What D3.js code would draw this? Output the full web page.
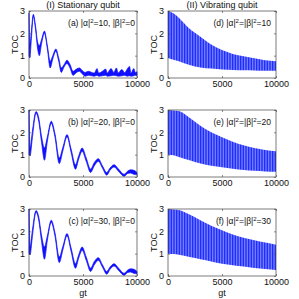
<!DOCTYPE html>
<html>
<head>
<meta charset="utf-8">
<script src="https://cdn.jsdelivr.net/npm/d3@7"></script>
<style>
	body { margin: 0; background: #fff; }
	text { font-family: "Liberation Sans", Arial, sans-serif; fill: #111; }
</style>
</head>
<body>
<div id="chart"></div>
<script>
// times and band (lo / hi)
var tA = [0, 80, 200, 400, 600, 800, 960, 1150, 1430, 1700, 1960, 2200, 2490, 2750, 2990, 3250, 3520, 3800, 4080, 4400, 4670, 4900, 5200, 5500, 5800, 6050, 6300, 6450, 6800, 7100, 7250, 7600, 7850, 8100, 8250, 8600, 8850, 9100, 9300, 9450, 9700, 9850, 10000];
var loA = [1.0, 0.9, 1.6, 2.75, 2.2, 1.3, 1.0, 1.5, 2.0, 1.3, 0.45, 0.85, 1.2, 0.75, 0.25, 0.5, 0.65, 0.45, 0.12, 0.25, 0.3, 0.2, 0.08, 0.12, 0.1, 0.08, 0.12, 0.08, 0.1, 0.12, 0.08, 0.1, 0.12, 0.1, 0.08, 0.1, 0.12, 0.08, 0.1, 0.08, 0.1, 0.12, 0.1];
var hiA = [2.9, 1.5, 2.0, 2.85, 2.35, 1.6, 1.45, 1.7, 2.1, 1.45, 0.75, 1.0, 1.3, 0.9, 0.45, 0.6, 0.8, 0.6, 0.3, 0.4, 0.45, 0.35, 0.25, 0.3, 0.25, 0.22, 0.42, 0.22, 0.3, 0.4, 0.22, 0.42, 0.25, 0.45, 0.22, 0.38, 0.24, 0.4, 0.52, 0.22, 0.42, 0.25, 0.28];

var tB = [0, 100, 300, 650, 900, 1150, 1430, 1700, 2060, 2400, 2800, 3150, 3520, 3900, 4300, 4600, 4920, 5300, 5700, 6050, 6420, 6800, 7200, 7500, 7880, 8300, 8810, 9100, 9400, 9700, 10000];
var loB = [1.0, 0.95, 1.7, 2.85, 2.5, 1.6, 0.75, 1.6, 2.4, 1.8, 0.6, 1.2, 1.8, 1.1, 0.35, 0.8, 1.15, 0.7, 0.2, 0.5, 0.7, 0.4, 0.08, 0.3, 0.45, 0.25, 0.03, 0.15, 0.18, 0.12, 0.1];
var hiB = [3.0, 1.3, 2.0, 2.93, 2.65, 1.85, 1.3, 1.8, 2.5, 1.95, 0.85, 1.35, 1.9, 1.25, 0.55, 0.95, 1.3, 0.85, 0.35, 0.65, 0.82, 0.5, 0.2, 0.4, 0.55, 0.35, 0.12, 0.25, 0.32, 0.3, 0.2];

var loC = [1.0, 0.95, 1.7, 2.85, 2.5, 1.6, 0.75, 1.6, 2.4, 1.8, 0.6, 1.2, 1.8, 1.1, 0.35, 0.8, 1.15, 0.7, 0.2, 0.5, 0.7, 0.4, 0.08, 0.3, 0.45, 0.25, 0.03, 0.15, 0.18, 0.12, 0.1];
var hiC = [3.0, 1.3, 2.0, 2.93, 2.65, 1.85, 1.3, 1.8, 2.5, 1.95, 0.85, 1.35, 1.9, 1.25, 0.55, 0.95, 1.3, 0.85, 0.35, 0.65, 0.82, 0.5, 0.2, 0.4, 0.55, 0.35, 0.12, 0.25, 0.32, 0.3, 0.2];

// envelopes of the vibrating qubit panels
var tV = [0, 500, 1000, 2000, 3000, 4000, 5000, 6000, 7000, 8000, 9000, 10000];
var loD = [0.9, 0.82, 0.75, 0.58, 0.47, 0.42, 0.38, 0.36, 0.35, 0.34, 0.33, 0.33];
var hiD = [3.0, 2.9, 2.7, 2.2, 1.85, 1.5, 1.25, 1.08, 0.97, 0.88, 0.8, 0.75];
var loE = [1.0, 0.97, 0.9, 0.75, 0.6, 0.5, 0.44, 0.37, 0.31, 0.28, 0.25, 0.23];
var hiE = [3.0, 2.98, 2.95, 2.65, 2.3, 2.0, 1.78, 1.58, 1.42, 1.3, 1.21, 1.15];
var loF = [1.0, 0.98, 0.95, 0.85, 0.75, 0.65, 0.55, 0.48, 0.42, 0.36, 0.31, 0.27];
var hiF = [3.0, 2.98, 2.95, 2.75, 2.5, 2.25, 2.05, 1.86, 1.71, 1.6, 1.5, 1.4];

var xTicks = [0, 5000, 10000];
var yTicks = [0, 1, 2, 3];
var colTitles = ["(I) Stationary qubit", "(II) Vibrating qubit"];
var tags = ["(a)", "(b)", "(c)", "(d)", "(e)", "(f)"];
var alphaVals = [10, 20, 30, 10, 20, 30];

!function() {
	var W = 299, H = 299,
		lefts = [29, 168],
		tops = [11, 110, 209],
		w = 108, h = 67,
		blue = "#1010ff";

	var svg = d3.select("#chart").append("svg")
		.attr("width", W)
		.attr("height", H);

	// stripe pattern for the fast oscillation of the vibrating qubit
	var pat = svg.append("defs").append("pattern")
		.attr("id", "stripes")
		.attr("patternUnits", "userSpaceOnUse")
		.attr("width", 1.6)
		.attr("height", 10);
	pat.append("rect").attr("width", 1.6).attr("height", 10).attr("fill", "#9298ff");
	pat.append("rect").attr("width", 0.9).attr("height", 10).attr("fill", "#1020ff");

	var x = d3.scaleLinear().domain([0, 10000]).range([0, w]);
	var y = d3.scaleLinear().domain([0, 3]).range([h, 0]);

	var panels = [
		{t: tA, lo: loA, hi: hiA, col: 0, row: 0},
		{t: tB, lo: loB, hi: hiB, col: 0, row: 1},
		{t: tB, lo: loC, hi: hiC, col: 0, row: 2},
		{t: tV, lo: loD, hi: hiD, col: 1, row: 0},
		{t: tV, lo: loE, hi: hiE, col: 1, row: 1},
		{t: tV, lo: loF, hi: hiF, col: 1, row: 2}
	];

	panels.forEach(function(p, i){
		var g = svg.append("g")
			.attr("transform", "translate(" + lefts[p.col] + "," + tops[p.row] + ")");

		var pts = p.t.map(function(t, k){ return {t: t, lo: p.lo[k], hi: p.hi[k]}; });

		var area = d3.area()
			.x(function(d){ return x(d.t); })
			.y0(function(d){ return y(d.lo); })
			.y1(function(d){ return y(d.hi); })
			.curve(d3.curveMonotoneX);

		if (p.col == 0) {
			g.append("path").datum(pts)
				.attr("d", area)
				.attr("fill", blue)
				.attr("stroke", blue)
				.attr("stroke-width", 0.7);
		} else {
			g.append("path").datum(pts)
				.attr("d", area)
				.attr("fill", "url(#stripes)");
		}

		//axes, ticks inward
		g.append("g").attr("transform", "translate(0," + h + ")")
			.call(d3.axisBottom(x).tickValues(xTicks).tickSize(-2).tickPadding(3).tickFormat(d3.format("d")));
		g.append("g")
			.call(d3.axisLeft(y).tickValues(yTicks).tickSize(-2).tickPadding(4).tickFormat(d3.format("d")));
		g.append("g").call(d3.axisTop(x).tickValues(xTicks).tickSize(-2).tickFormat(""));
		g.append("g").attr("transform", "translate(" + w + ",0)")
			.call(d3.axisRight(y).tickValues(yTicks).tickSize(-2).tickFormat(""));

		g.selectAll(".domain").remove();
		g.selectAll(".tick line").attr("stroke", "#444").attr("stroke-width", 0.6);
		g.selectAll(".tick text").attr("font-size", 9).attr("fill", "#111")
			.attr("font-family", "Liberation Sans, Arial, sans-serif");

		g.append("rect")
			.attr("width", w).attr("height", h)
			.attr("fill", "none").attr("stroke", "#444").attr("stroke-width", 0.7);

		// TOC label
		g.append("text")
			.attr("transform", "translate(-11," + (h / 2) + ") rotate(-90)")
			.attr("text-anchor", "middle")
			.attr("font-size", 9)
			.text("TOC");

		//annotation with superscripts
		var lab = g.append("text")
			.attr("x", w - 2).attr("y", 15)
			.attr("text-anchor", "end")
			.attr("font-size", 8.5);
		if (p.col == 0) {
			lab.append("tspan").text(tags[i] + " |\u03b1|");
			lab.append("tspan").attr("dy", -3).attr("font-size", 6).text("2");
			lab.append("tspan").attr("dy", 3).text("=" + alphaVals[i] + ", |\u03b2|");
			lab.append("tspan").attr("dy", -3).attr("font-size", 6).text("2");
			lab.append("tspan").attr("dy", 3).text("=0");
		} else {
			lab.attr("x", w - 5);
			lab.append("tspan").text(tags[i] + " |\u03b1|");
			lab.append("tspan").attr("dy", -3).attr("font-size", 6).text("2");
			lab.append("tspan").attr("dy", 3).text("=|\u03b2|");
			lab.append("tspan").attr("dy", -3).attr("font-size", 6).text("2");
			lab.append("tspan").attr("dy", 3).text("=" + alphaVals[i]);
		}

		if (p.row == 0) {
			g.append("text")
				.attr("x", w / 2).attr("y", -3)
				.attr("text-anchor", "middle")
				.attr("font-size", 9)
				.text(colTitles[p.col]);
		}
		if (p.row == 2) {
			g.append("text")
				.attr("x", w / 2).attr("y", h + 20)
				.attr("text-anchor", "middle")
				.attr("font-size", 9)
				.text("gt");
		}
	});
}();
</script>
</body>
</html>
